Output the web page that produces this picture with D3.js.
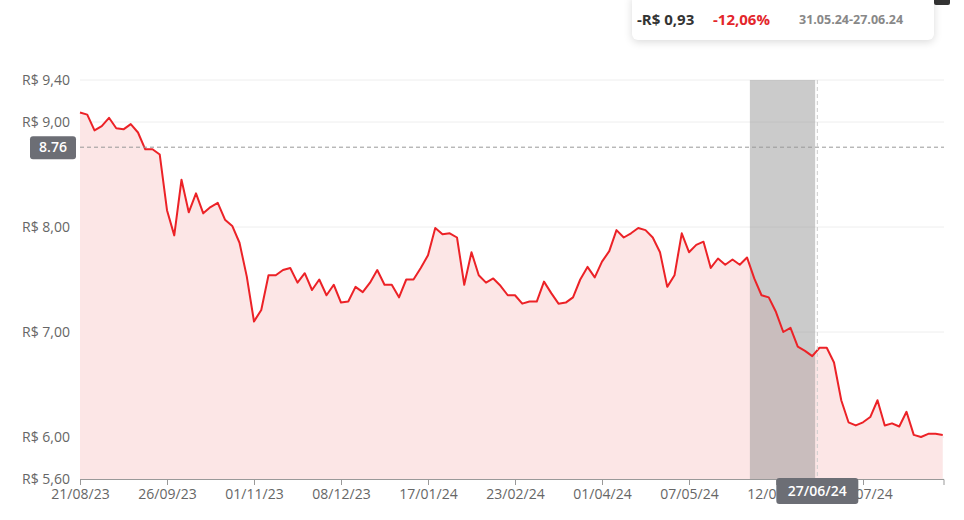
<!DOCTYPE html>
<html>
<head>
<meta charset="utf-8">
<script src="https://cdn.jsdelivr.net/npm/d3@7"></script>
<style>
  body { margin: 0; background: #fff; font-family: "Open Sans", "Noto Sans", sans-serif; }
  #chart { position: relative; width: 964px; height: 520px; }
  .tip { position: absolute; left: 632px; top: -6px; width: 302px; height: 46px; background: #fff;
    border-radius: 6px; box-shadow: 0 2px 8px rgba(0,0,0,0.15); font-weight: 700; }
</style>
</head>
<body>
<div id="chart"></div>
<script>
// price series, one point per ~2 trading days
const prices = [9.09, 9.07, 8.92, 8.96, 9.04, 8.94, 8.93, 8.98, 8.90, 8.74, 8.74, 8.69,
  8.16, 7.92, 8.45, 8.14, 8.32, 8.13, 8.19, 8.23, 8.07, 8.01, 7.85, 7.53,
  7.10, 7.21, 7.54, 7.54, 7.59, 7.61, 7.47, 7.56, 7.40, 7.50, 7.35, 7.45,
  7.28, 7.29, 7.43, 7.38, 7.47, 7.59, 7.45, 7.45, 7.33, 7.50, 7.50, 7.61,
  7.73, 7.99, 7.93, 7.94, 7.90, 7.45, 7.76, 7.54, 7.47, 7.51, 7.44, 7.35,
  7.35, 7.27, 7.29, 7.29, 7.48, 7.37, 7.27, 7.28, 7.33, 7.50, 7.62, 7.52,
  7.67, 7.77, 7.97, 7.90, 7.94, 7.99, 7.97, 7.90, 7.76, 7.43, 7.54, 7.94,
  7.76, 7.83, 7.86, 7.61, 7.70, 7.64, 7.69, 7.64, 7.71, 7.51, 7.35, 7.33,
  7.19, 7.00, 7.04, 6.86, 6.82, 6.77, 6.85, 6.85, 6.71, 6.35, 6.14, 6.11,
  6.14, 6.19, 6.35, 6.11, 6.13, 6.10, 6.24, 6.02, 6.00, 6.03, 6.03, 6.02];
const xTickLabels = ["21/08/23", "26/09/23", "01/11/23", "08/12/23", "17/01/24", "23/02/24",
  "01/04/24", "07/05/24", "12/06/24", "18/07/24"];
const xTickIndex = [0, 12, 24, 36, 48, 60, 72, 84, 96, 108];
const yTicks = [5.6, 6, 7, 8, 9, 9.4];
const bandRange = [92.4, 101.4];
const crossIndex = 101.7;
const crossValue = 8.76;
const crossDate = "27/06/24";

const W = 964, H = 520;

const svg = d3.select("#chart").append("svg").attr("width", W).attr("height", H);

const x = d3.scaleLinear().domain([0, 119]).range([80, 942.75]);
const y = d3.scaleLinear().domain([5.6, 9.4]).range([479, 80]);
const fmt = v => "R$ " + v.toFixed(2).replace(".", ",");

// grid
svg.append("g").selectAll("line").data(yTicks).join("line")
  .attr("x1", 80).attr("x2", 944)
  .attr("y1", d => y(d)).attr("y2", d => y(d))
  .attr("stroke", "#eeeeee");

svg.append("g").selectAll("text").data(yTicks).join("text")
  .attr("x", 70).attr("y", d => y(d)).attr("dy", "0.35em")
  .attr("text-anchor", "end").attr("fill", "#666").attr("font-size", 14)
  .text(fmt);

const area = d3.area().x((d, i) => x(i)).y0(y(5.6)).y1(d => y(d));
const line = d3.line().x((d, i) => x(i)).y(d => y(d));

svg.append("path").datum(prices).attr("d", area).attr("fill", "#fce6e6");

// selection band
svg.append("rect")
  .attr("x", x(bandRange[0])).attr("width", x(bandRange[1]) - x(bandRange[0]))
  .attr("y", 80).attr("height", 399)
  .attr("fill", "rgba(140,140,140,0.45)");

svg.append("path").datum(prices).attr("d", line)
  .attr("fill", "none").attr("stroke", "#ec2227").attr("stroke-width", 2)
  .attr("stroke-linejoin", "round");

// x axis
const xAxis = d3.axisBottom(x).tickValues(xTickIndex)
  .tickFormat((d, i) => xTickLabels[i]).tickSize(6).tickSizeOuter(0);
const ax = svg.append("g").attr("transform", "translate(0,479)").call(xAxis);
ax.select(".domain").attr("stroke", "#999").attr("d", "M80,0.5H944V6");
ax.selectAll(".tick line").attr("stroke", "#999");
ax.selectAll("text").attr("fill", "#666").attr("font-size", 14)
  .attr("font-family", "Open Sans, sans-serif").attr("dy", "0.75em");

// crosshair
svg.append("line").attr("x1", 80).attr("x2", 944)
  .attr("y1", y(crossValue)).attr("y2", y(crossValue))
  .attr("stroke", "#999").attr("stroke-dasharray", "4,3");
svg.append("line").attr("x1", x(crossIndex)).attr("x2", x(crossIndex))
  .attr("y1", 80).attr("y2", 479)
  .attr("stroke", "#ccc").attr("stroke-dasharray", "4,3");

const yl = svg.append("g");
yl.append("rect").attr("x", 30).attr("y", y(crossValue) - 11).attr("width", 46).attr("height", 23)
  .attr("rx", 3).attr("fill", "#6c6e75");
yl.append("text").attr("x", 53).attr("y", y(crossValue)).attr("dy", "0.35em")
  .attr("text-anchor", "middle").attr("fill", "#fff").attr("font-size", 14)
  .attr("font-weight", 600).text(crossValue.toFixed(2));

const xl = svg.append("g");
xl.append("rect").attr("x", x(crossIndex) - 41).attr("y", 478).attr("width", 82).attr("height", 26)
  .attr("rx", 3).attr("fill", "#6c6e75");
xl.append("text").attr("x", x(crossIndex)).attr("y", 491).attr("dy", "0.35em")
  .attr("text-anchor", "middle").attr("fill", "#fff").attr("font-size", 14)
  .attr("font-weight", 600).text(crossDate);

// tooltip
svg.append("rect").attr("x", 934).attr("y", -4).attr("width", 16).attr("height", 9)
  .attr("rx", 2).attr("fill", "#333");
const tip = d3.select("#chart").append("div").attr("class", "tip");
tip.append("span").style("position", "absolute").style("left", "5px").style("top", "15px")
  .style("font-size", "15px").style("color", "#333").text("-R$ 0,93");
tip.append("span").style("position", "absolute").style("left", "81px").style("top", "15px")
  .style("font-size", "15px").style("color", "#e3262b").text("-12,06%");
tip.append("span").style("position", "absolute").style("left", "167px").style("top", "17px")
  .style("font-size", "12.5px").style("color", "#888").text("31.05.24-27.06.24");
</script>
</body>
</html>
